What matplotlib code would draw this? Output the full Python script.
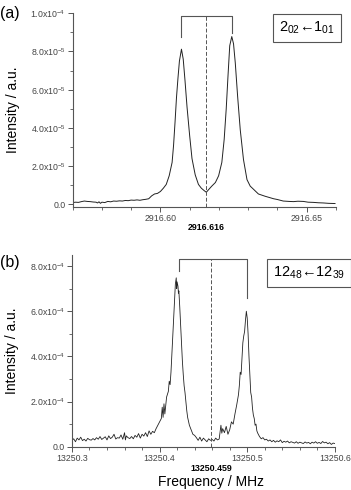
import matplotlib
matplotlib.use('Agg')
import matplotlib.pyplot as plt
from matplotlib.ticker import MultipleLocator, FixedLocator, FixedFormatter

plt.rcParams['font.family'] = ['Liberation Sans', 'DejaVu Sans']
plt.rcParams['mathtext.fontset'] = 'custom'
plt.rcParams['mathtext.rm'] = 'Liberation Sans'
plt.rcParams['mathtext.it'] = 'Liberation Sans'

# panel (a): 2_02 <- 1_01, intensity in units of 1e-5
a_freq = [2916.5700, 2916.5710, 2916.5720, 2916.5730, 2916.5740, 2916.5750, 2916.5760,
          2916.5770, 2916.5780, 2916.5785, 2916.5790, 2916.5795, 2916.5800, 2916.5810,
          2916.5820, 2916.5830, 2916.5840, 2916.5850, 2916.5860, 2916.5870, 2916.5880,
          2916.5890, 2916.5900, 2916.5910, 2916.5920, 2916.5930, 2916.5940, 2916.5950,
          2916.5960, 2916.5970, 2916.5980, 2916.5990, 2916.6000, 2916.6010, 2916.6020,
          2916.6030, 2916.6040, 2916.6045, 2916.6050, 2916.6055, 2916.6060, 2916.6065,
          2916.6072, 2916.6078, 2916.6084, 2916.6091, 2916.6100, 2916.6108, 2916.6119,
          2916.6130, 2916.6140, 2916.6150, 2916.6157, 2916.6165, 2916.6175, 2916.6188,
          2916.6199, 2916.6210, 2916.6218, 2916.6225, 2916.6231, 2916.6237, 2916.6244,
          2916.6250, 2916.6256, 2916.6264, 2916.6273, 2916.6284, 2916.6296, 2916.6307,
          2916.6318, 2916.6335, 2916.6358, 2916.6387, 2916.6400, 2916.6420, 2916.6440,
          2916.6455, 2916.6470, 2916.6489, 2916.6505, 2916.6523, 2916.6540, 2916.6557,
          2916.6575, 2916.6597]
a_int = [0.10, 0.12, 0.11, 0.15, 0.18, 0.16, 0.15,
         0.13, 0.12, 0.08, 0.14, 0.06, 0.12, 0.10,
         0.16, 0.14, 0.18, 0.17, 0.19, 0.18, 0.21,
         0.20, 0.23, 0.22, 0.24, 0.22, 0.25, 0.27,
         0.30, 0.45, 0.55, 0.58, 0.68, 0.85, 1.05,
         1.50, 2.20, 3.10, 4.30, 5.60, 6.60, 7.50,
         8.12, 7.60, 6.50, 5.10, 3.60, 2.40, 1.55,
         1.05, 0.85, 0.72, 0.64, 0.78, 0.95, 1.15,
         1.50, 2.20, 3.40, 5.00, 6.70, 8.30, 8.78,
         8.40, 7.40, 5.65, 3.90, 2.35, 1.30, 0.96,
         0.80, 0.55, 0.43, 0.30, 0.26, 0.18, 0.16,
         0.15, 0.17, 0.16, 0.12, 0.11, 0.09, 0.08,
         0.06, 0.05]

# panel (b): 12_48 <- 12_39, intensity in units of 1e-4
b_freq = [13250.300, 13250.302, 13250.304, 13250.306, 13250.308, 13250.310, 13250.312,
          13250.314, 13250.316, 13250.318, 13250.320, 13250.322, 13250.324, 13250.326,
          13250.328, 13250.330, 13250.332, 13250.334, 13250.336, 13250.338, 13250.340,
          13250.342, 13250.344, 13250.346, 13250.348, 13250.350, 13250.352, 13250.354,
          13250.356, 13250.358, 13250.360, 13250.361, 13250.362, 13250.364, 13250.366,
          13250.368, 13250.370, 13250.372, 13250.374, 13250.376, 13250.378, 13250.380,
          13250.382, 13250.384, 13250.386, 13250.388, 13250.390, 13250.392, 13250.394,
          13250.396, 13250.398, 13250.400, 13250.402, 13250.403, 13250.404, 13250.405,
          13250.406, 13250.408, 13250.410, 13250.411, 13250.412, 13250.413, 13250.414,
          13250.415, 13250.416, 13250.417, 13250.418, 13250.419, 13250.4195, 13250.420,
          13250.421, 13250.4215, 13250.422, 13250.423, 13250.424, 13250.425, 13250.426,
          13250.427, 13250.428, 13250.429, 13250.430, 13250.431, 13250.432, 13250.434,
          13250.436, 13250.438, 13250.440, 13250.442, 13250.444, 13250.446, 13250.448,
          13250.450, 13250.452, 13250.454, 13250.456, 13250.458, 13250.460, 13250.462,
          13250.464, 13250.466, 13250.468, 13250.470, 13250.471, 13250.472, 13250.474,
          13250.476, 13250.478, 13250.480, 13250.482, 13250.484, 13250.486, 13250.488,
          13250.490, 13250.491, 13250.492, 13250.493, 13250.494, 13250.495, 13250.496,
          13250.497, 13250.498, 13250.499, 13250.500, 13250.501, 13250.502, 13250.503,
          13250.504, 13250.505, 13250.506, 13250.507, 13250.508, 13250.509, 13250.510,
          13250.511, 13250.512, 13250.514, 13250.516, 13250.518, 13250.520, 13250.522,
          13250.524, 13250.526, 13250.528, 13250.530, 13250.532, 13250.534, 13250.536,
          13250.538, 13250.540, 13250.542, 13250.544, 13250.546, 13250.548, 13250.550,
          13250.552, 13250.554, 13250.556, 13250.558, 13250.560, 13250.562, 13250.564,
          13250.566, 13250.568, 13250.570, 13250.572, 13250.574, 13250.576, 13250.578,
          13250.580, 13250.582, 13250.584, 13250.586, 13250.588, 13250.590, 13250.592,
          13250.594, 13250.596, 13250.598, 13250.600]
b_int = [0.28, 0.35, 0.22, 0.38, 0.30, 0.42, 0.27,
         0.33, 0.25, 0.37, 0.31, 0.29, 0.36, 0.30,
         0.40, 0.33, 0.45, 0.32, 0.38, 0.44, 0.30,
         0.48, 0.36, 0.42, 0.55, 0.34, 0.40, 0.38,
         0.52, 0.33, 0.62, 0.30, 0.48, 0.40, 0.36,
         0.45, 0.35, 0.50, 0.42, 0.58, 0.38, 0.55,
         0.47, 0.62, 0.45, 0.70, 0.55, 0.68, 0.62,
         0.80, 0.95, 1.10, 1.25, 1.75, 1.30, 1.90,
         1.45, 2.20, 2.45, 2.90, 2.75, 3.30, 4.10,
         5.00, 5.80, 6.60, 7.20, 7.48, 7.00, 7.30,
         7.10, 6.80, 6.90, 6.20, 5.40, 4.60, 3.80,
         3.20, 2.70, 2.40, 2.00, 1.60, 1.30, 0.95,
         0.75, 0.55, 0.50, 0.40, 0.28, 0.42, 0.25,
         0.38, 0.30, 0.22, 0.35, 0.28, 0.32, 0.25,
         0.38, 0.30, 0.34, 0.95, 0.60, 0.80, 0.62,
         0.90, 0.55, 0.75, 1.10, 1.00, 1.45, 1.85,
         2.30, 2.70, 3.30, 3.20, 3.90, 4.60, 4.90,
         5.10, 5.60, 6.00, 5.70, 5.00, 4.00, 3.20,
         2.40, 2.20, 1.70, 1.40, 1.25, 0.95, 1.00,
         0.70, 0.60, 0.45, 0.35, 0.40, 0.30, 0.33,
         0.25, 0.30, 0.22, 0.28, 0.20, 0.26, 0.22,
         0.30, 0.18, 0.24, 0.20, 0.25, 0.17, 0.22,
         0.19, 0.16, 0.22, 0.15, 0.20, 0.17, 0.14,
         0.21, 0.16, 0.19, 0.13, 0.20, 0.16, 0.22,
         0.15, 0.19, 0.14, 0.23, 0.17, 0.20, 0.13,
         0.18, 0.10, 0.16, 0.14]

a_center = 2916.616
a_center_pos = 2916.6157
a_bracket = [2916.6072, 2916.6245]
b_center = 13250.459
b_bracket = [13250.4223, 13250.4992]

gray = '#555555'
fig = plt.figure(figsize=(3.51, 4.90), dpi=100)

# ---------- panel (a) ----------
ax1 = fig.add_axes([0.207, 0.578, 0.750, 0.395])
ax1.plot(a_freq, [v * 1e-5 for v in a_int], color='#222222', lw=0.7)
ax1.set_xlim(2916.57, 2916.66)
ax1.set_ylim(-0.012e-4, 1.0e-4)
ax1.axvline(a_center_pos, ymax=0.985, color=gray, ls=(0, (4, 2)), lw=0.7)
ax1.plot([a_bracket[0], a_bracket[0], a_bracket[1], a_bracket[1]],
         [0.876e-4, 0.986e-4, 0.986e-4, 0.897e-4], color=gray, lw=0.8)
ax1.xaxis.set_major_locator(FixedLocator([2916.60, 2916.65]))
ax1.xaxis.set_major_formatter(FixedFormatter(['2916.60', '2916.65']))
ax1.xaxis.set_minor_locator(MultipleLocator(0.01))
ax1.yaxis.set_major_locator(FixedLocator([0, 2e-5, 4e-5, 6e-5, 8e-5, 1e-4]))
ax1.yaxis.set_major_formatter(FixedFormatter(
    ['0.0', r'2.0x10$^{-5}$', r'4.0x10$^{-5}$', r'6.0x10$^{-5}$', r'8.0x10$^{-5}$', r'1.0x10$^{-4}$']))
ax1.yaxis.set_minor_locator(MultipleLocator(1e-5))
ax1.text(a_center_pos, -0.085, '2916.616', transform=ax1.get_xaxis_transform(),
         ha='center', va='top', fontsize=6.4, fontweight='bold')
ax1.text(0.785, 0.925, r'$2_{02}$' + '\u2190' + r'$1_{01}$', transform=ax1.transAxes,
         ha='left', va='center', fontsize=10.5,
         bbox=dict(boxstyle='square,pad=0.4', fc='white', ec=gray, lw=0.8))
ax1.set_ylabel('Intensity / a.u.', fontsize=10)
fig.text(0.0, 0.973, '(a)', fontsize=11.5, va='center', ha='left')

# ---------- panel (b) ----------
ax2 = fig.add_axes([0.205, 0.087, 0.749, 0.393])
ax2.plot(b_freq, [v * 1e-4 for v in b_int], color='#222222', lw=0.6)
ax2.set_xlim(13250.3, 13250.6)
ax2.set_ylim(-0.03e-4, 8.5e-4)
ax2.axvline(b_center, ymax=0.978, color=gray, ls=(0, (4, 2)), lw=0.7)
ax2.plot([b_bracket[0], b_bracket[0], b_bracket[1], b_bracket[1]],
         [7.78e-4, 8.3e-4, 8.3e-4, 6.6e-4], color=gray, lw=0.8)
ax2.xaxis.set_major_locator(FixedLocator([13250.3, 13250.4, 13250.5, 13250.6]))
ax2.xaxis.set_major_formatter(FixedFormatter(['13250.3', '13250.4', '13250.5', '13250.6']))
ax2.xaxis.set_minor_locator(MultipleLocator(0.02))
ax2.yaxis.set_major_locator(FixedLocator([0, 2e-4, 4e-4, 6e-4, 8e-4]))
ax2.yaxis.set_major_formatter(FixedFormatter(
    ['0.0', r'2.0x10$^{-4}$', r'4.0x10$^{-4}$', r'6.0x10$^{-4}$', r'8.0x10$^{-4}$']))
ax2.yaxis.set_minor_locator(MultipleLocator(1e-4))
ax2.text(b_center, -0.085, '13250.459', transform=ax2.get_xaxis_transform(),
         ha='center', va='top', fontsize=6.4, fontweight='bold')
ax2.text(0.765, 0.905, r'$12_{48}$' + '\u2190' + r'$12_{39}$', transform=ax2.transAxes,
         ha='left', va='center', fontsize=10.5,
         bbox=dict(boxstyle='square,pad=0.4', fc='white', ec=gray, lw=0.8))
ax2.set_ylabel('Intensity / a.u.', fontsize=10)
fig.text(0.0, 0.465, '(b)', fontsize=11.5, va='center', ha='left')
fig.text(0.60, 0.003, 'Frequency / MHz', fontsize=10, ha='center', va='bottom')

for ax in (ax1, ax2):
    ax.spines['top'].set_visible(False)
    ax.spines['right'].set_visible(False)
    for s in ('left', 'bottom'):
        ax.spines[s].set_color(gray)
        ax.spines[s].set_linewidth(0.8)
    ax.tick_params(which='major', length=3.5, width=0.7, color=gray,
                   labelsize=6.3, labelcolor='#444444', pad=1.5)
    ax.tick_params(which='minor', length=2, width=0.6, color=gray)
    ax.yaxis.set_label_coords(-0.2, 0.5)

fig.savefig('out.png', dpi=100)
